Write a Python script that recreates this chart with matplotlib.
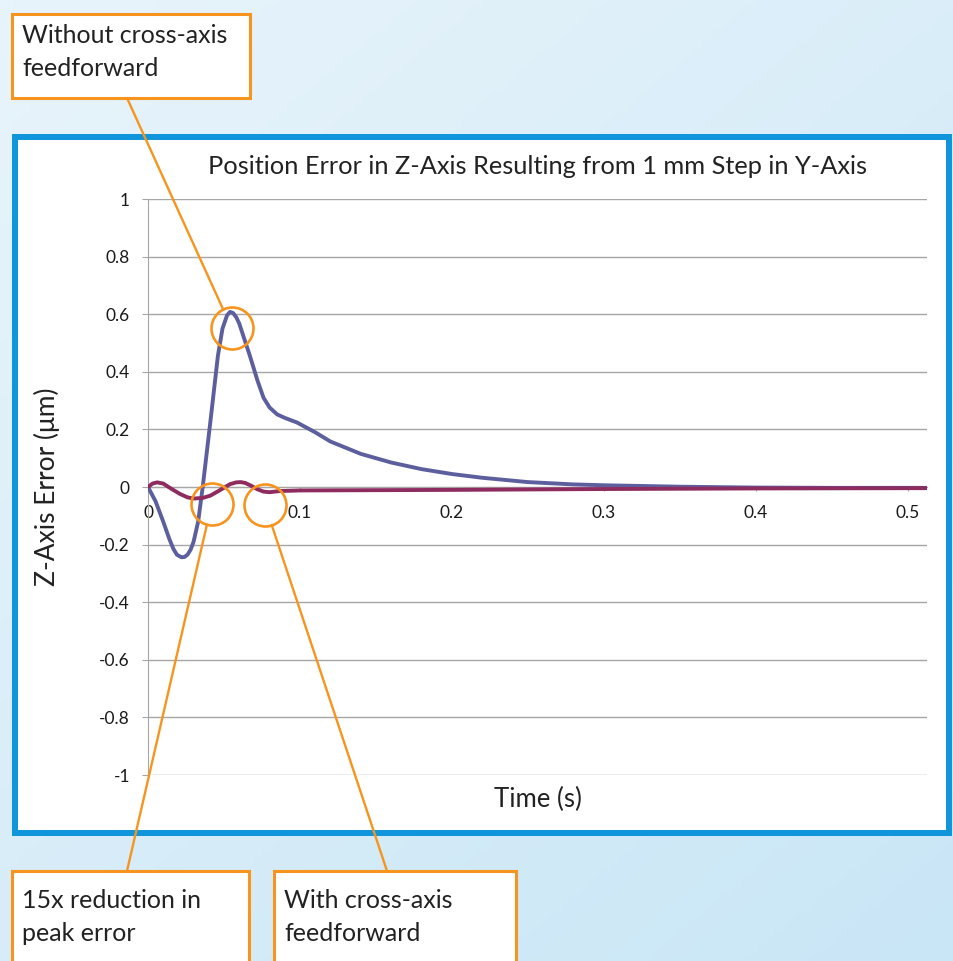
import matplotlib
matplotlib.use('Agg')
import matplotlib.pyplot as plt
import numpy as np
from matplotlib.patches import Rectangle, ConnectionPatch

plt.rcParams['font.family'] = ['Lato', 'DejaVu Sans']

# ---- data ----
t_without = [0, 0.005, 0.010, 0.014, 0.0167, 0.019, 0.022, 0.024, 0.026, 0.028,
             0.030, 0.033, 0.036, 0.041, 0.046, 0.049, 0.052, 0.054, 0.056, 0.058,
             0.060, 0.063, 0.067, 0.072, 0.076, 0.080, 0.085, 0.090, 0.098, 0.110,
             0.120, 0.140, 0.160, 0.180, 0.200, 0.220, 0.250, 0.280, 0.300, 0.350,
             0.400, 0.450, 0.512]
err_without = [0, -0.05, -0.12, -0.18, -0.215, -0.235, -0.244, -0.243, -0.235, -0.218,
               -0.19, -0.12, 0.0, 0.225, 0.456, 0.55, 0.596, 0.608, 0.604, 0.59,
               0.568, 0.52, 0.456, 0.37, 0.31, 0.276, 0.252, 0.24, 0.224, 0.19,
               0.158, 0.115, 0.085, 0.062, 0.045, 0.032, 0.017, 0.009, 0.006, 0.001,
               -0.002, -0.003, -0.003]

t_with = [0, 0.003, 0.006, 0.010, 0.015, 0.021, 0.026, 0.030, 0.036, 0.041,
          0.047, 0.054, 0.058, 0.061, 0.064, 0.068, 0.072, 0.076, 0.080, 0.087,
          0.100, 0.150, 0.200, 0.300, 0.400, 0.512]
err_with = [0, 0.012, 0.016, 0.012, -0.005, -0.024, -0.036, -0.04, -0.038, -0.03,
            -0.012, 0.01, 0.016, 0.017, 0.014, 0.004, -0.008, -0.016, -0.018, -0.014,
            -0.012, -0.011, -0.01, -0.007, -0.005, -0.004]

x_ticks = [0, 0.1, 0.2, 0.3, 0.4, 0.5]
x_tick_labels = ['0', '0.1', '0.2', '0.3', '0.4', '0.5']
y_ticks = [1, 0.8, 0.6, 0.4, 0.2, 0, -0.2, -0.4, -0.6, -0.8, -1]
y_tick_labels = ['1', '0.8', '0.6', '0.4', '0.2', '0', '-0.2', '-0.4', '-0.6', '-0.8', '-1']

# highlighted spots (data coords) and their callouts
circle_peak = (0.0551, 0.551)
circle_reduction = (0.0419, -0.059)
circle_with = (0.077, -0.0625)

# label, box (x0, y0, x1, y1) in image px, text offset, leader start, target
callouts = [
    ('Without cross-axis\nfeedforward', (12, 14, 250, 98), 10, (127, 98), circle_peak),
    ('15x reduction in\npeak error', (12, 871, 249, 990), 18, (127, 871), circle_reduction),
    ('With cross-axis\nfeedforward', (274, 871, 516, 990), 18, (387, 871), circle_with),
]

W, H = 954, 961
orange = '#f7941d'
blue_line = '#5c5e9e'
purple_line = '#8e2c60'
frame_blue = '#0f95db'
grid_grey = '#a6a6a6'
text_col = '#222222'

fig = plt.figure(figsize=(W / 100, H / 100), dpi=100)

# background layer in image pixel coordinates
bg = fig.add_axes([0, 0, 1, 1])
bg.set_xlim(0, W)
bg.set_ylim(H, 0)
bg.axis('off')
gy, gx = np.mgrid[0:1:200j, 0:1:200j]
grad = 0.55 * gy + 0.45 * gx
bg.imshow(grad, cmap=matplotlib.colors.LinearSegmentedColormap.from_list(
    'bgc', ['#e8f4fb', '#c9e6f6']), extent=[0, W, H, 0], aspect='auto', zorder=0)
bg.add_patch(Rectangle((15, 137), 934, 696, facecolor='white', edgecolor=frame_blue,
                       linewidth=4.3, zorder=1))

# main chart
ax_l, ax_r, ax_t, ax_b = 148, 927, 199, 775
ax = fig.add_axes([ax_l / W, (H - ax_b) / H, (ax_r - ax_l) / W, (ax_b - ax_t) / H])
ax.set_facecolor('none')
ax.set_xlim(0, 0.5125)
ax.set_ylim(-1, 1)

for yv in y_ticks:
    ax.axhline(yv, color=grid_grey, linewidth=1.0, zorder=1)

ax.plot(t_without, err_without, color=blue_line, linewidth=2.8,
        solid_joinstyle='round', solid_capstyle='round', zorder=3)
ax.plot(t_with, err_with, color=purple_line, linewidth=2.8,
        solid_joinstyle='round', solid_capstyle='round', zorder=4)

for sp in ['top', 'right']:
    ax.spines[sp].set_visible(False)
ax.spines['left'].set_color(grid_grey)
ax.spines['bottom'].set_color(grid_grey)
ax.spines['bottom'].set_position(('data', 0))

ax.set_xticks(x_ticks)
ax.set_xticklabels(x_tick_labels)
ax.set_yticks(y_ticks)
ax.set_yticklabels(y_tick_labels)
ax.tick_params(axis='y', length=4.5, color=grid_grey, pad=8.5, labelsize=12.5,
               labelcolor='#1a1a1a')
ax.tick_params(axis='x', length=3, color=grid_grey, pad=10, labelsize=12.5,
               labelcolor='#1a1a1a')

ax.set_title('Position Error in Z-Axis Resulting from 1 mm Step in Y-Axis',
             fontsize=18.3, color=text_col, pad=18)
ax.text(0.5, -0.043, 'Time (s)', transform=ax.transAxes, ha='center', va='center',
        fontsize=18.5, color=text_col)
ax.text(-0.13, 0.5, 'Z-Axis Error (\u03bcm)', transform=ax.transAxes, rotation=90,
        ha='center', va='center', fontsize=19, color=text_col)

# highlight circles around the points of interest
circle_r_px = 21
for cx, cy in [circle_peak, circle_reduction, circle_with]:
    ax.plot([cx], [cy], marker='o', markersize=2 * circle_r_px * 0.72,
            markerfacecolor='none', markeredgecolor=orange, markeredgewidth=1.9,
            clip_on=False, zorder=6)

# callout boxes with leader lines
for label, (x0, y0, x1, y1), dy, (lx, ly), target in callouts:
    bg.add_patch(Rectangle((x0, y0), x1 - x0, y1 - y0, facecolor='white',
                           edgecolor=orange, linewidth=2.2, zorder=5))
    bg.text(x0 + 10, y0 + dy, label, ha='left', va='top', fontsize=18,
            color=text_col, linespacing=1.55, zorder=6)
    con = ConnectionPatch(xyA=(lx, H - ly), coordsA='figure pixels',
                          xyB=target, coordsB='data', axesB=ax,
                          arrowstyle='-', color=orange, linewidth=1.7,
                          shrinkA=0, shrinkB=circle_r_px * 0.72)
    fig.add_artist(con)

fig.savefig('out.png', dpi=100)
